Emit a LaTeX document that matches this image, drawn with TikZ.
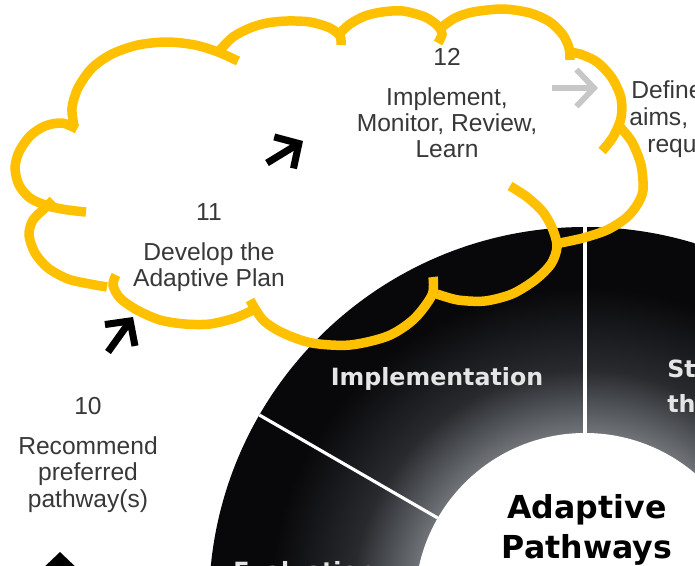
\documentclass[tikz,border=0pt]{standalone}
\usepackage{fontspec}
\setmainfont{Liberation Sans}
\newfontfamily\ringfont{DejaVu Sans}
\usetikzlibrary{positioning,arrows.meta}

\definecolor{cloudgold}{RGB}{255,192,0}
\definecolor{ringdark}{RGB}{8,8,10}
\definecolor{ringmid}{RGB}{40,42,46}
\definecolor{ringlight}{RGB}{112,116,120}
\pgfdeclareradialshading{ringshade}{\pgfpointorigin}{color(0bp)=(ringlight); color(11.3bp)=(ringlight); color(15.5bp)=(ringmid); color(21bp)=(ringdark); color(50bp)=(ringdark)}

\begin{document}
\begin{tikzpicture}[
    x=0.02cm, y=-0.02cm,
    every node/.style={inner sep=0pt, align=center},
    stepnum/.style={font=\fontsize{14}{15}\selectfont, text=black!78},
    steptext/.style={font=\fontsize{14}{15}\selectfont, text=black!78},
    sector/.style={font=\ringfont\bfseries\fontsize{13.5}{20}\selectfont, text=white!90!black},
    hubtext/.style={font=\ringfont\bfseries\fontsize{18}{22.5}\selectfont},
    steparrow/.style={line width=4pt, -{Straight Barb[length=10pt, width=21pt]}},
    cloudline/.style={draw=cloudgold, line width=5.4pt}
]
\useasboundingbox (0,0) rectangle (695,565);
\clip (0,0) rectangle (695,565);

% the ring
\coordinate (hub) at (585,603);
\shade[shading=ringshade] (hub) circle[radius=376];
\fill[white] (hub) circle[radius=170];
\foreach \ang in {-150,-90}
    \draw[white, line width=1.8pt] (hub) ++(\ang:170) -- ++(\ang:206);

\node[sector] (impl) at (437,379) {Implementation};
\node[sector, anchor=west, align=left] (strat) at (667,386) {St\\th};
\node[sector, anchor=base west] (eval) at (233,579) {Evaluation};
\node[hubtext] (hubname) at (587,530) {Adaptive\\Pathways};

% the steps
\node[stepnum] (n12) at (447,57) {12};
\node[steptext, below=12pt of n12] (t12) {Implement,\\Monitor, Review,\\Learn};
\node[stepnum] (n11) at (209,212) {11};
\node[steptext, below=12pt of n11] (t11) {Develop the\\Adaptive Plan};
\node[stepnum] (n10) at (88,406) {10};
\node[steptext, below=12pt of n10] (t10) {Recommend\\preferred\\pathway(s)};
\node[steptext, anchor=base west] (d1) at (631,98) {Define};
\node[steptext, anchor=base west] (d2) at (629,125) {aims, o};
\node[steptext, anchor=base west] (d3) at (647,152) {requ};

% arrows between the steps
\coordinate (a10s) at (60,600);
\coordinate (a10e) at (60,552);
\coordinate (a11s) at (108,352);
\coordinate (a11e) at (133,317);
\coordinate (a12s) at (267,163);
\coordinate (a12e) at (303,141);
\coordinate (a1s) at (552,88);
\coordinate (a1e) at (598,88);
\draw[steparrow] (a10s) -- (a10e);
\draw[steparrow] (a11s) -- (a11e);
\draw[steparrow] (a12s) -- (a12e);
\draw[steparrow, line width=3.3pt, black!22] (a1s) -- (a1e);

% the cloud, bump by bump
\draw[cloudline] plot[smooth] coordinates {(77,129) (62,123) (45,126) (30,136) (19,152) (15,168) (19,185) (30,198) (48,206) (68,210) (86,212)};
\draw[cloudline] plot[smooth] coordinates {(74,126) (72,108) (78,88) (92,68) (112,54) (138,45) (167,42) (195,45) (218,52) (238,61)};
\draw[cloudline] plot[smooth] coordinates {(220,50) (233,37) (250,28) (267,23) (287,21) (310,22) (330,28) (340,36) (341,45)};
\draw[cloudline] plot[smooth] coordinates {(338,35) (350,24) (365,16) (382,12) (403,11) (425,17) (438,26) (442,34) (438,43)};
\draw[cloudline] plot[smooth] coordinates {(442,27) (455,18) (473,12) (503,9) (530,13) (550,22) (563,35) (569,48) (570,60)};
\draw[cloudline] plot[smooth] coordinates {(567,52) (580,54) (597,62) (612,78) (621,98) (621,118) (613,137) (602,151)};
\draw[cloudline] plot[smooth] coordinates {(620,127) (632,142) (641,165) (643,190) (637,205) (626,218) (607,230) (583,238) (560,243)};
\draw[cloudline] plot[smooth] coordinates {(510,186) (527,197) (543,212) (553,230) (557,247) (551,264) (535,280) (512,294) (485,301) (458,300) (437,294)};
\draw[cloudline] plot[smooth] coordinates {(433,277) (432,295) (414,319) (388,336) (350,345) (312,343) (283,333) (263,320) (250,300)};
\draw[cloudline] plot[smooth] coordinates {(253,310) (235,318) (210,324) (185,324) (160,320) (137,310) (120,298) (113,285) (116,275)};
\draw[cloudline] plot[smooth] coordinates {(107,287) (90,284) (68,279) (48,268) (35,253) (29,235) (33,220) (45,208) (53,200)};

\end{tikzpicture}
\end{document}
